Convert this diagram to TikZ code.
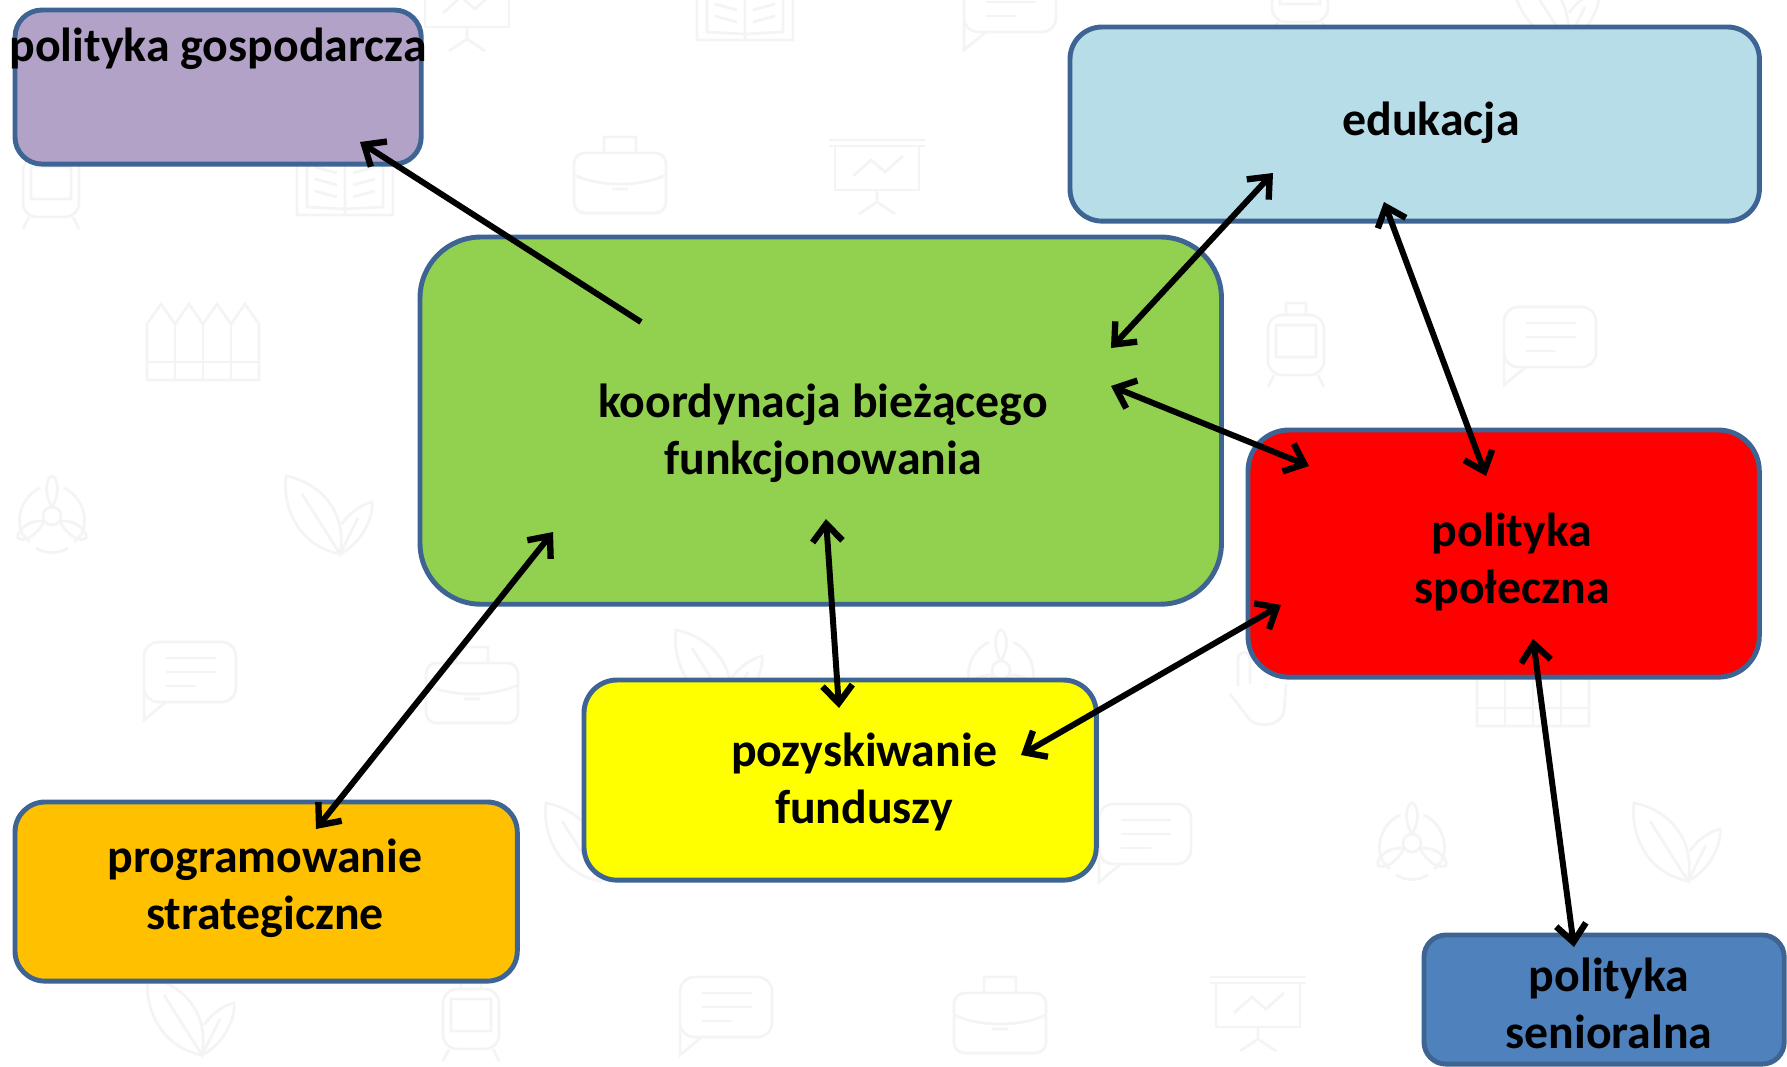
\documentclass[tikz,border=0pt]{standalone}
\usepackage{fontspec}
\setmainfont{Carlito}
\usetikzlibrary{arrows.meta}
\definecolor{frame}{HTML}{3E6493}
\definecolor{icon}{HTML}{F4F4F4}
\definecolor{tileyellow}{HTML}{FFFF00}
\definecolor{tilered}{HTML}{FF0000}
\tikzset{
      tile/.style={draw=frame, line width=1.4pt, anchor=north west, inner sep=0pt, outer sep=0pt},
      caption/.style={font=\fontsize{13.6}{16.2}\selectfont\bfseries, align=center, text=black},
      link/.style={draw=black, line width=1.7pt, {Straight Barb[length=5pt,width=8.5pt,line width=1.8pt]}-{Straight Barb[length=5pt,width=8.5pt,line width=1.8pt]}},
      oneway/.style={draw=black, line width=1.7pt, -{Straight Barb[length=5pt,width=8.5pt,line width=1.8pt]}},
      board/.pic={
            \draw[icon, line width=.8pt] (-48,-38) -- (48,-38) (-48,-32) -- (48,-32) (-42,-32) -- (-42,12) -- (42,12) -- (42,-32);
            \draw[icon, line width=.8pt] (-24,-2) -- (-6,-18) -- (8,-6) -- (26,-22) (0,12) -- (0,24) -- (-18,36) (0,24) -- (18,36);
      },
      book/.pic={
            \draw[icon, line width=.8pt] (-48,-30) -- (-48,30) -- (48,30) -- (48,-30) (0,-24) -- (0,30) (-38,-34) -- (-38,22) -- (0,24) -- (38,22) -- (38,-34) -- (0,-24) -- (-38,-34);
            \draw[icon, line width=.8pt] (-30,-18) -- (-8,-12) (-30,-6) -- (-8,0) (-30,6) -- (-8,12) (30,-18) -- (8,-12) (30,-6) -- (8,0) (30,6) -- (8,12);
      },
      speech/.pic={
            \draw[icon, line width=.8pt, rounded corners=4pt] (-46,-38) rectangle (46,22);
            \draw[icon, line width=.8pt] (-46,10) -- (-46,40) -- (-24,22);
            \draw[icon, line width=.8pt] (-24,-22) -- (26,-22) (-24,-8) -- (26,-8) (-24,6) -- (6,6);
      },
      telly/.pic={
            \draw[icon, line width=.8pt, rounded corners=4pt] (-28,-28) rectangle (28,32);
            \draw[icon, line width=.8pt] (-20,-18) rectangle (20,14) (-10,-28) -- (-10,-40) -- (10,-40) -- (10,-28) (-22,32) -- (-28,44) (22,32) -- (28,44);
      },
      suitcase/.pic={
            \draw[icon, line width=.8pt, rounded corners=3pt] (-46,-22) rectangle (46,38);
            \draw[icon, line width=.8pt] (-16,-22) -- (-16,-38) -- (16,-38) -- (16,-22) (-46,0) .. controls (-20,12) and (20,12) .. (46,0) (-8,14) -- (8,14);
      },
      fence/.pic={
            \draw[icon, line width=.8pt] (-56,36) -- (-56,-20) -- (-42,-40) -- (-28,-20) -- (-14,-40) -- (0,-20) -- (14,-40) -- (28,-20) -- (42,-40) -- (56,-20) -- (56,36) -- cycle;
            \draw[icon, line width=.8pt] (-28,-20) -- (-28,36) (0,-20) -- (0,36) (28,-20) -- (28,36) (-56,18) -- (56,18);
      },
      fan/.pic={
            \draw[icon, line width=.8pt] (0,0) circle (9);
            \draw[icon, line width=.8pt] (0,-9) .. controls (-10,-26) and (-4,-40) .. (0,-40) .. controls (4,-40) and (10,-26) .. (0,-9);
            \draw[icon, line width=.8pt] (8,5) .. controls (28,4) and (36,18) .. (34,22) .. controls (30,26) and (16,22) .. (8,5);
            \draw[icon, line width=.8pt] (-8,5) .. controls (-28,4) and (-36,18) .. (-34,22) .. controls (-30,26) and (-16,22) .. (-8,5);
            \draw[icon, line width=.8pt] (-12,-28) .. controls (-34,-18) and (-40,14) .. (-22,26) (12,-28) .. controls (34,-18) and (40,14) .. (22,26) (-16,32) .. controls (-6,38) and (6,38) .. (16,32);
      },
      leaf/.pic={
            \draw[icon, line width=.8pt] (12,38) .. controls (-30,30) and (-46,-10) .. (-42,-40) .. controls (-10,-34) and (20,-6) .. (12,38) -- (-26,-22);
            \draw[icon, line width=.8pt] (12,38) .. controls (36,26) and (46,-2) .. (44,-14) .. controls (34,-12) and (20,-2) .. (14,8) (12,38) -- (30,2);
      },
      palm/.pic={
            \draw[icon, line width=.8pt] (-22,-4) -- (-22,-30) .. controls (-22,-40) and (-10,-40) .. (-10,-30) -- (-10,-6) (-30,4) -- (-10,30) .. controls (0,38) and (20,36) .. (24,22) -- (26,-6);
      },
}
\begin{document}
\begin{tikzpicture}[x=0.01cm, y=-0.01cm]
        \useasboundingbox (0,0) rectangle (1787,1066);

        % Draw the faint icons
        \foreach \x/\y in {467/15, 877/178, 1258/1015} \pic at (\x,\y) {board};
        \foreach \x/\y in {745/10, 345/185} \pic at (\x,\y) {book};
        \foreach \x/\y in {1010/10, 1550/345, 190/680, 1145/842, 726/1015} \pic at (\x,\y) {speech};
        \foreach \x/\y in {51/185, 1296/343, 471/1017, 1300/-10} \pic at (\x,\y) {telly};
        \foreach \x/\y in {620/175, 472/685, 1000/1015} \pic at (\x,\y) {suitcase};
        \foreach \x/\y in {203/344, 1533/690} \pic at (\x,\y) {fence};
        \foreach \x/\y in {52/516, 1001/670, 1412/843} \pic at (\x,\y) {fan};
        \foreach \x/\y in {328/516, 1555/5, 718/670, 1676/843, 588/843, 190/1017} \pic at (\x,\y) {leaf};
        \pic at (1260,690) {palm};

        % Draw the boxes
        \node[tile, fill={rgb,255:red,178;green,162;blue,199}, minimum width=4.06cm, minimum height=1.54cm, rounded corners=0.27cm] (gospodarcza) at (15,10) {};
        \node[tile, fill={rgb,255:red,183;green,221;blue,232}, minimum width=6.89cm, minimum height=1.94cm, rounded corners=0.32cm] (edukacja) at (1070,27) {};
        \node[tile, fill={rgb,255:red,146;green,208;blue,80}, minimum width=8.01cm, minimum height=3.67cm, rounded corners=0.61cm] (koordynacja) at (420,237) {};
        \node[tile, fill=tilered, minimum width=5.11cm, minimum height=2.47cm, rounded corners=0.41cm] (spoleczna) at (1248,430) {};
        \node[tile, fill=tileyellow, minimum width=5.12cm, minimum height=2cm, rounded corners=0.33cm] (fundusze) at (584,680) {};
        \node[tile, fill={rgb,255:red,255;green,192;blue,0}, minimum width=5.02cm, minimum height=1.79cm, rounded corners=0.3cm] (programowanie) at (15,802) {};
        \node[tile, fill={rgb,255:red,79;green,129;blue,189}, minimum width=3.6cm, minimum height=1.29cm, rounded corners=0.22cm] (senioralna) at (1424,935) {};

        % Draw the captions
        \node[caption] (gospodarczaText) at (218,49) {polityka gospodarcza};
        \node[caption] (edukacjaText) at (1431,123) {edukacja};
        \node[caption] (koordynacjaText) at (823,433) {koordynacja bieżącego\\funkcjonowania};
        \node[caption] (spolecznaText) at (1512,562) {polityka\\społeczna};
        \node[caption] (funduszeText) at (864,782) {pozyskiwanie\\funduszy};
        \node[caption] (programowanieText) at (265,888) {programowanie\\strategiczne};
        \node[caption] (senioralnaText) at (1609,1003) {polityka\\senioralna};

        % Draw the arrow ends
        \coordinate (koGos) at (641,322);
        \coordinate (gosKo) at (360,142);
        \coordinate (koEdu) at (1111,348);
        \coordinate (eduKo) at (1273,173);
        \coordinate (koSpo) at (1111,386);
        \coordinate (spoKo) at (1309,466);
        \coordinate (eduSpo) at (1384,202);
        \coordinate (spoEdu) at (1486,476);
        \coordinate (spoFun) at (1281,605);
        \coordinate (funSpo) at (1021,755);
        \coordinate (koFun) at (826,519);
        \coordinate (funKo) at (839,708);
        \coordinate (koPro) at (553,532);
        \coordinate (proKo) at (316,829);
        \coordinate (spoSen) at (1533,639);
        \coordinate (senSpo) at (1574,947);

        % Draw the arrows
        \draw[oneway] (koGos) -- (gosKo);
        \draw[link] (koEdu) -- (eduKo);
        \draw[link] (koSpo) -- (spoKo);
        \draw[link] (eduSpo) -- (spoEdu);
        \draw[link] (spoFun) -- (funSpo);
        \draw[link] (koFun) -- (funKo);
        \draw[link] (koPro) -- (proKo);
        \draw[link] (spoSen) -- (senSpo);

\end{tikzpicture}
\end{document}
